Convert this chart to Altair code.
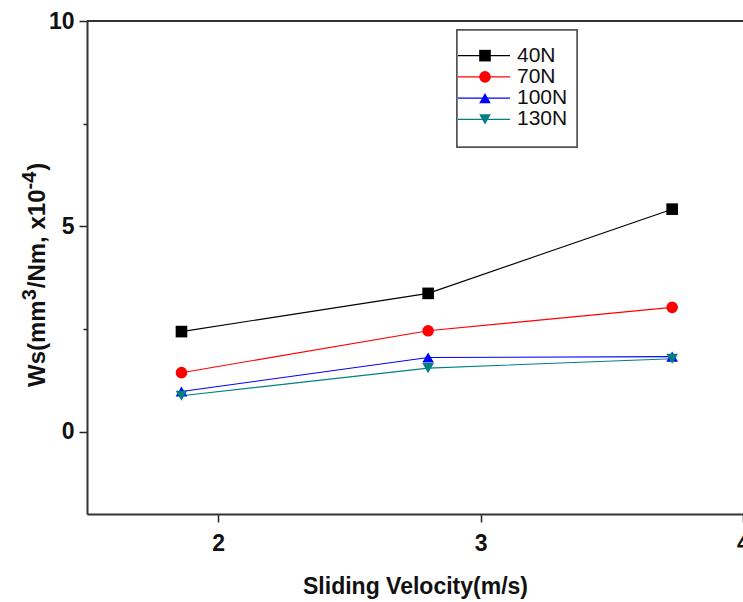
import altair as alt
import pandas as pd

velocity = [1.86, 2.80, 3.73]
loads = ["40N", "70N", "100N", "130N"]
ws_40 = [2.44, 3.37, 5.42]
ws_70 = [1.44, 2.46, 3.03]
ws_100 = [0.98, 1.81, 1.83]
ws_130 = [0.88, 1.55, 1.78]

colors = ["#000000", "#ff0000", "#0000ff", "#008080"]
shapes = ["square", "circle", "triangle-up", "triangle-down"]
marker_sizes = [135, 135, 175, 175]
legend_marker_sizes = [95, 95, 120, 120]

# y-axis title pieces: (text, is_superscript)
ytitle_parts = [("Ws(mm", False), ("3", True), ("/Nm, x10", False), ("-4", True), (")", False)]

rows = []
for name, vals in zip(loads, [ws_40, ws_70, ws_100, ws_130]):
    for v, w in zip(velocity, vals):
        rows.append({"load": name, "velocity": v, "ws": w})
df = pd.DataFrame(rows)
leg_df = pd.DataFrame({"load": loads})

FONT = "Liberation Sans"
W, H = 656, 493
FS = 23

color_scale = alt.Scale(domain=loads, range=colors)
shape_scale = alt.Scale(domain=loads, range=shapes)

x_enc = alt.X(
    "velocity:Q",
    scale=alt.Scale(domain=[1.5, 4], nice=False, zero=False),
    axis=alt.Axis(
        values=[2, 2.5, 3, 3.5, 4],
        format="d",
        labelExpr="datum.value % 1 == 0 ? datum.label : ''",
        tickSize={"condition": {"test": "datum.value % 1 != 0", "value": 4}, "value": 8},
        grid=False,
        title="Sliding Velocity(m/s)",
        titleFontSize=FS,
        titleFontWeight="bold",
        titlePadding=20,
        labelFontSize=FS,
        labelFontWeight="bold",
        labelPadding=10,
        labelFlush=False,
        labelOverlap=False,
    ),
)
y_enc = alt.Y(
    "ws:Q",
    scale=alt.Scale(domain=[-2, 10], nice=False, zero=False),
    axis=alt.Axis(
        values=[0, 2.5, 5, 7.5, 10],
        format="d",
        labelExpr="datum.value % 5 == 0 ? datum.label : ''",
        tickSize={"condition": {"test": "datum.value % 5 != 0", "value": 4}, "value": 8},
        grid=False,
        title=None,
        labelFontSize=FS,
        labelFontWeight="bold",
        labelPadding=5,
        labelFlush=False,
        labelOverlap=False,
    ),
)

lines = alt.Chart(df).mark_line(strokeWidth=1.1).encode(
    x=x_enc,
    y=y_enc,
    color=alt.Color("load:N", scale=color_scale, legend=None),
    detail="load:N",
)
points = alt.Chart(df).mark_point(filled=True, opacity=1).encode(
    x="velocity:Q",
    y="ws:Q",
    color=alt.Color("load:N", scale=color_scale, legend=None),
    shape=alt.Shape("load:N", scale=shape_scale, legend=None),
    size=alt.Size("load:N", scale=alt.Scale(domain=loads, range=marker_sizes), legend=None),
)
top_line = alt.Chart(leg_df).mark_rule(color="#333333", strokeWidth=2).encode(
    x=alt.value(0), x2=alt.value(W), y=alt.value(0)
)

# manual y-axis title with full-size superscripts (rotated text pieces)
MAIN_FS, SUP_FS = 24, 20
widths = {"Ws(mm": 3.611, "3": 0.556, "/Nm, x10": 4.113, "-4": 0.889, ")": 0.333}
title_layers = []
pos = 366.0  # bottom start of title (relative to plot top)
base_x = -49
for txt, sup in ytitle_parts:
    fs = SUP_FS if sup else MAIN_FS
    t = alt.Chart(pd.DataFrame({"t": [txt]})).mark_text(
        align="left", baseline="middle", angle=270, fontSize=fs,
        fontWeight="bold", font=FONT, color="#111111",
    ).encode(
        text="t:N",
        x=alt.value(base_x - (8 if sup else 0)),
        y=alt.value(pos),
    )
    title_layers.append(t)
    pos -= widths[txt] * fs + (1 if sup else 0)

main = alt.layer(lines, points, top_line, *title_layers)

leg_y = alt.Y("load:N", scale=alt.Scale(domain=loads, range=[24, 109], padding=0), axis=None)
leg_frame = alt.Chart(leg_df).mark_rect(
    fill="white", stroke="#555555", strokeWidth=1.5
).encode(x=alt.value(370), x2=alt.value(490), y=alt.value(9), y2=alt.value(126))
leg_rule = alt.Chart(leg_df).mark_rule(strokeWidth=1.1).encode(
    x=alt.value(371), x2=alt.value(423), y=leg_y,
    color=alt.Color("load:N", scale=color_scale, legend=None),
)
leg_pts = alt.Chart(leg_df).mark_point(filled=True, opacity=1).encode(
    x=alt.value(398), y=leg_y,
    color=alt.Color("load:N", scale=color_scale, legend=None),
    shape=alt.Shape("load:N", scale=shape_scale, legend=None),
    size=alt.Size("load:N", scale=alt.Scale(domain=loads, range=legend_marker_sizes), legend=None),
)
leg_text = alt.Chart(leg_df).mark_text(
    align="left", baseline="middle", fontSize=21, font=FONT, color="#111111"
).encode(x=alt.value(430), y=leg_y, text="load:N")
legend = alt.layer(leg_frame, leg_rule, leg_pts, leg_text)

chart = alt.layer(main, legend).resolve_scale(y="independent").properties(
    width=W,
    height=H,
    autosize=alt.AutoSizeParams(type="none"),
    padding={"left": 87, "top": 21, "right": 0, "bottom": 88},
    background="white",
).configure_view(stroke=None).configure_axis(
    domainColor="#333333",
    domainWidth=2,
    tickColor="#222222",
    tickWidth=1.5,
    labelFont=FONT,
    titleFont=FONT,
    labelColor="#111111",
    titleColor="#111111",
)

chart.save("out.html", embed_options={"renderer": "svg", "actions": False})
